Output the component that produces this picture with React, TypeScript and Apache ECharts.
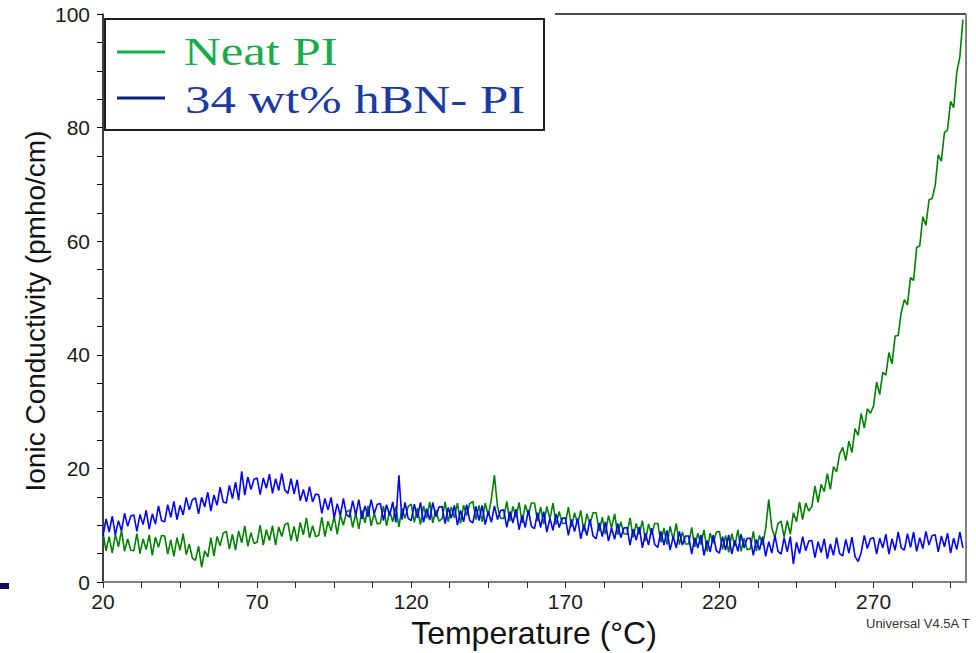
import React, { useEffect, useRef } from "react";
import * as echarts from "echarts";

// Temperature sampling: 1 °C steps starting at 20 °C
const T_START = 20;
const T_STEP = 1;

// Neat PI ionic conductivity (pmho/cm), 20..299 °C (noisy trace as read)
const neatPI = [
  8.7, 5.5, 8.0, 5.1, 8.4, 6.2, 9.1, 5.4, 7.6, 5.6,
  5.5, 8.5, 5.0, 7.6, 5.7, 8.3, 4.7, 7.9, 6.1, 8.2,
  8.1, 4.9, 7.4, 4.5, 7.8, 5.6, 8.5, 4.8, 6.7, 4.2,
  3.8, 6.3, 2.6, 5.5, 4.4, 7.8, 4.6, 8.0, 6.4, 8.6,
  8.9, 5.8, 8.4, 5.6, 9.0, 6.9, 9.9, 6.3, 8.7, 6.8,
  7.0, 10.0, 6.5, 9.2, 7.3, 9.9, 6.5, 9.7, 8.0, 10.1,
  10.4, 7.3, 9.8, 7.1, 10.5, 8.3, 11.3, 7.8, 9.9, 8.0,
  8.2, 11.4, 8.0, 10.7, 9.0, 11.6, 8.4, 11.8, 10.0, 12.3,
  12.7, 9.6, 12.1, 9.3, 12.6, 10.4, 13.4, 9.9, 12.1, 10.2,
  10.4, 13.4, 9.9, 12.5, 10.6, 13.3, 9.7, 13.0, 11.2, 13.3,
  13.7, 10.5, 13.0, 10.1, 13.4, 11.2, 14.1, 10.4, 12.7, 10.7,
  11.1, 14.1, 10.6, 13.2, 11.3, 13.9, 10.3, 13.5, 11.7, 13.8,
  14.2, 11.0, 13.5, 10.6, 13.9, 11.7, 14.6, 18.8, 13.2, 11.2,
  11.2, 14.2, 10.7, 13.3, 11.4, 14.0, 10.4, 13.6, 11.8, 13.9,
  13.9, 10.7, 13.2, 10.2, 13.3, 11.1, 13.9, 10.1, 12.4, 10.3,
  10.3, 13.2, 9.7, 12.2, 10.2, 12.6, 8.9, 12.0, 10.2, 12.2,
  12.2, 8.9, 11.4, 8.4, 11.7, 9.5, 12.0, 8.3, 10.6, 8.5,
  8.4, 11.3, 7.8, 10.3, 8.4, 10.8, 7.2, 10.2, 8.3, 10.3,
  10.3, 7.0, 9.5, 6.6, 9.8, 7.5, 10.3, 6.6, 8.8, 6.7,
  6.7, 9.6, 6.2, 8.6, 6.6, 9.2, 5.4, 8.6, 6.8, 8.8,
  8.9, 5.7, 8.2, 5.2, 8.5, 6.3, 9.2, 5.4, 7.7, 5.7,
  5.8, 8.9, 5.5, 8.2, 6.5, 9.4, 14.5, 9.5, 7.9, 10.3,
  10.7, 7.9, 10.8, 8.4, 12.2, 10.6, 14.1, 11.0, 13.9, 12.5,
  13.3, 16.9, 14.0, 17.2, 15.9, 19.1, 16.3, 20.3, 19.4, 22.5,
  23.7, 21.4, 24.8, 22.8, 27.0, 25.8, 29.7, 27.1, 30.5, 29.7,
  31.0, 35.2, 33.0, 36.9, 36.4, 40.4, 38.4, 43.3, 43.4, 47.5,
  49.7, 48.8, 53.6, 53.1, 58.9, 59.2, 64.3, 62.8, 67.3, 67.5,
  69.8, 75.2, 74.1, 79.1, 79.6, 84.6, 83.5, 89.7, 92.4, 99.0,
];

// 34 wt% hBN-PI ionic conductivity (pmho/cm), 20..299 °C (noisy trace as read)
const hbnPI = [
  8.1, 11.1, 8.8, 11.6, 8.3, 10.8, 9.0, 12.1, 9.8, 11.6,
  11.8, 8.9, 11.9, 10.1, 12.6, 9.3, 12.0, 10.2, 13.4, 10.8,
  10.6, 13.6, 11.4, 14.2, 11.0, 13.5, 11.8, 14.9, 12.7, 14.5,
  14.8, 12.0, 14.9, 13.2, 15.8, 12.5, 15.3, 13.5, 16.7, 14.1,
  13.9, 17.0, 14.7, 17.6, 14.4, 19.5, 15.3, 18.5, 16.3, 18.1,
  18.3, 15.4, 18.3, 16.5, 19.0, 15.6, 18.2, 16.1, 19.1, 16.2,
  15.6, 18.2, 15.5, 18.0, 14.3, 16.3, 14.1, 16.8, 14.1, 15.5,
  15.3, 12.1, 14.7, 12.7, 14.9, 11.3, 13.8, 11.7, 14.7, 11.9,
  11.4, 14.3, 11.8, 14.5, 11.1, 13.4, 11.5, 14.5, 12.0, 13.7,
  13.8, 10.8, 13.6, 11.7, 14.1, 10.5, 18.8, 11.0, 14.0, 11.2,
  10.8, 13.7, 11.3, 14.0, 10.5, 12.9, 10.9, 14.0, 11.5, 13.2,
  13.3, 10.3, 13.1, 11.2, 13.5, 10.0, 12.6, 10.6, 13.6, 10.8,
  10.4, 13.3, 10.8, 13.5, 10.1, 12.4, 10.5, 13.4, 11.0, 12.6,
  12.7, 9.6, 12.4, 10.4, 12.8, 9.2, 11.7, 9.6, 12.7, 9.8,
  9.4, 12.2, 9.6, 12.4, 8.8, 11.2, 9.1, 12.0, 9.6, 11.2,
  11.3, 8.2, 11.0, 8.9, 11.2, 7.6, 10.1, 8.2, 11.0, 8.1,
  7.6, 10.4, 8.0, 10.6, 7.2, 9.5, 7.5, 10.3, 7.8, 9.5,
  9.6, 6.5, 9.3, 7.4, 9.7, 6.0, 8.6, 6.5, 9.5, 6.6,
  6.1, 8.9, 6.5, 9.1, 5.6, 8.0, 6.0, 8.9, 6.5, 8.1,
  8.1, 4.9, 7.8, 6.0, 8.3, 4.7, 7.3, 5.3, 8.3, 5.5,
  5.1, 8.0, 5.6, 8.3, 4.9, 7.3, 5.4, 8.4, 6.0, 7.7,
  7.7, 4.7, 7.5, 5.6, 8.0, 4.5, 7.1, 5.1, 8.2, 5.4,
  4.9, 7.8, 5.3, 8.0, 3.2, 7.0, 5.0, 8.0, 5.5, 7.2,
  7.3, 4.3, 7.1, 5.2, 7.6, 4.1, 6.7, 4.7, 7.8, 5.0,
  4.6, 7.5, 5.1, 7.9, 4.5, 3.6, 5.2, 8.2, 5.9, 7.6,
  7.8, 4.9, 7.7, 6.0, 8.4, 4.9, 7.6, 5.6, 8.8, 6.0,
  5.6, 8.5, 6.1, 8.8, 5.4, 7.8, 5.9, 8.9, 6.5, 8.2,
  8.3, 5.3, 8.1, 6.2, 8.6, 5.1, 7.7, 5.7, 8.8, 6.0,
];

const xTickLabels = [20, 70, 120, 170, 220, 270];
const yTickLabels = [0, 20, 40, 60, 80, 100];
const legendNames = ["Neat PI", "34 wt% hBN- PI"];

const toPairs = (vals: number[]) => vals.map((v, i) => [T_START + i * T_STEP, v]);

export default function App() {
  const ref = useRef<HTMLDivElement>(null);
  useEffect(() => {
    if (!ref.current) return;
    const chart = echarts.init(ref.current, null, { renderer: "svg" });
    const sans = "Liberation Sans, Arial, sans-serif";
    const serif = "Liberation Serif, Times New Roman, serif";
    chart.setOption({
      animation: false,
      backgroundColor: "#ffffff",
      grid: { left: 103, right: 10, top: 14, bottom: 71 },
      xAxis: {
        type: "value",
        min: 20,
        max: 300,
        interval: 12.5,
        axisLine: { show: true, onZero: false, lineStyle: { color: "#808080", width: 2 } },
        axisTick: { show: true, inside: false, length: 6, lineStyle: { color: "#333", width: 1 } },
        splitLine: { show: false },
        axisLabel: {
          margin: 9,
          fontSize: 21,
          fontFamily: sans,
          color: "#1a1a1a",
          showMaxLabel: false,
          formatter: (v: number) => (xTickLabels.indexOf(v) >= 0 ? String(v) : ""),
        },
      },
      yAxis: {
        type: "value",
        min: 0,
        max: 100,
        interval: 20,
        axisLine: { show: true, lineStyle: { color: "#000", width: 1.5 } },
        axisTick: { show: true, inside: false, length: 6, lineStyle: { color: "#000", width: 1 } },
        minorTick: { show: true, splitNumber: 4, length: 6, lineStyle: { color: "#000", width: 1 } },
        splitLine: { show: false },
        axisLabel: {
          margin: 13,
          fontSize: 21,
          fontFamily: sans,
          color: "#1a1a1a",
          formatter: (v: number) => (yTickLabels.indexOf(v) >= 0 ? String(v) : ""),
        },
      },
      series: [
        {
          name: legendNames[0],
          type: "line",
          data: toPairs(neatPI),
          showSymbol: false,
          lineStyle: { color: "#008000", width: 1.6 },
          itemStyle: { color: "#008000" },
          z: 2,
        },
        {
          name: legendNames[1],
          type: "line",
          data: toPairs(hbnPI),
          showSymbol: false,
          lineStyle: { color: "#0000ff", width: 1.6 },
          itemStyle: { color: "#0000ff" },
          z: 3,
        },
      ],
      graphic: [
        { type: "line", shape: { x1: 555, y1: 14, x2: 966, y2: 14 }, style: { stroke: "#111", lineWidth: 1.5 } },
        { type: "line", shape: { x1: 966, y1: 14, x2: 966, y2: 583 }, style: { stroke: "#808080", lineWidth: 2 } },
        {
          type: "rect",
          shape: { x: 105, y: 19, width: 439, height: 111 },
          style: { fill: "#ffffff", stroke: "#1e1e1e", lineWidth: 2 },
          z: 10,
        },
        { type: "line", shape: { x1: 117, y1: 52, x2: 165, y2: 52 }, style: { stroke: "#0fb04a", lineWidth: 3 }, z: 11 },
        {
          type: "text",
          x: 184,
          y: 51.5,
          scaleX: 1.27,
          z: 11,
          style: { text: legendNames[0], font: `40px ${serif}`, fill: "#19ab4b", align: "left", verticalAlign: "middle" },
        },
        { type: "line", shape: { x1: 117, y1: 98, x2: 165, y2: 98 }, style: { stroke: "#0b1f7e", lineWidth: 3 }, z: 11 },
        {
          type: "text",
          x: 185,
          y: 99.5,
          scaleX: 1.27,
          z: 11,
          style: { text: legendNames[1], font: `40px ${serif}`, fill: "#1b3aa3", align: "left", verticalAlign: "middle" },
        },
        {
          type: "text",
          x: 35,
          y: 311,
          rotation: Math.PI / 2,
          style: { text: "Ionic Conductivity (pmho/cm)", font: `28px ${sans}`, fill: "#111", align: "center", verticalAlign: "middle" },
        },
        {
          type: "text",
          x: 534,
          y: 633,
          style: { text: "Temperature (°C)", font: `32px ${sans}`, fill: "#111", align: "center", verticalAlign: "middle" },
        },
        {
          type: "text",
          x: 866,
          y: 623,
          style: { text: "Universal V4.5A T", font: `13px ${sans}`, fill: "#333", align: "left", verticalAlign: "middle" },
        },
        { type: "rect", shape: { x: 0, y: 583, width: 9, height: 6 }, style: { fill: "#0b0b5c" } },
      ],
    });
    return () => chart.dispose();
  }, []);
  return <div ref={ref} style={{ position: "fixed", left: 0, top: 0, width: 976, height: 653 }} />;
}
